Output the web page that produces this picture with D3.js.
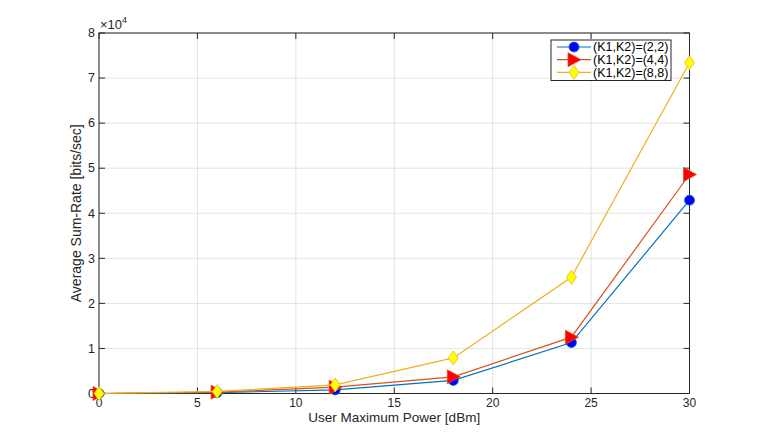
<!DOCTYPE html>
<html><head><meta charset="utf-8">
<script src="https://cdn.jsdelivr.net/npm/d3@7"></script>
<style>body{margin:0;background:#fff}svg{display:block}text{font-family:"Liberation Sans",Arial,sans-serif}</style>
</head><body>
<svg id="c" width="761" height="443"></svg>
<script>
const xValues = [0, 6, 12, 18, 24, 30];
const series22 = [0, 200, 800, 2900, 11300, 42900];
const series44 = [0, 300, 1400, 3700, 12500, 48600];
const series88 = [0, 450, 1900, 7900, 25800, 73400];
const xTicks = [0, 5, 10, 15, 20, 25, 30];
const yTicks = [0, 1, 2, 3, 4, 5, 6, 7, 8];
const legendLabels = ["(K1,K2)=(2,2)", "(K1,K2)=(4,4)", "(K1,K2)=(8,8)"];

const svg = d3.select("#c");
const L = 99, R = 689.5, T = 33, B = 393.5;
const x = d3.scaleLinear().domain([0, 30]).range([L, R]);
const y = d3.scaleLinear().domain([0, 80000]).range([B, T]);

// grid
const g = svg.append("g");
g.selectAll(".gx").data(xTicks).enter().append("line")
  .attr("x1", d => x(d)).attr("x2", d => x(d)).attr("y1", T).attr("y2", B)
  .attr("stroke", "#e3e3e3").attr("stroke-width", 1);
g.selectAll(".gy").data(yTicks).enter().append("line")
  .attr("y1", d => y(d * 1e4)).attr("y2", d => y(d * 1e4)).attr("x1", L).attr("x2", R)
  .attr("stroke", "#e3e3e3").attr("stroke-width", 1);

// axes
const ax = svg.append("g");
ax.append("rect").attr("x", L).attr("y", T).attr("width", R - L).attr("height", B - T)
  .attr("fill", "none").attr("stroke", "#262626").attr("stroke-width", 1);
const tl = 6;
xTicks.forEach(t => {
  ax.append("line").attr("x1", x(t)).attr("x2", x(t)).attr("y1", B).attr("y2", B - tl).attr("stroke", "#262626");
  ax.append("line").attr("x1", x(t)).attr("x2", x(t)).attr("y1", T).attr("y2", T + tl).attr("stroke", "#262626");
  ax.append("text").attr("x", x(t)).attr("y", B + 13.5).attr("text-anchor", "middle")
    .attr("font-size", 12).attr("fill", "#262626").text(t);
});
yTicks.forEach(t => {
  const yy = y(t * 1e4);
  ax.append("line").attr("x1", L).attr("x2", L + tl).attr("y1", yy).attr("y2", yy).attr("stroke", "#262626");
  ax.append("line").attr("x1", R).attr("x2", R - tl).attr("y1", yy).attr("y2", yy).attr("stroke", "#262626");
  ax.append("text").attr("x", L - 4).attr("y", yy + 4.3).attr("text-anchor", "end")
    .attr("font-size", 12.5).attr("fill", "#262626").text(t);
});
// exponent
const ex = ax.append("text").attr("x", L + 1).attr("y", T - 4).attr("font-size", 13).attr("fill", "#262626");
ex.append("tspan").text("\u00d710");
ex.append("tspan").attr("font-size", 9).attr("dy", -6).text("4");

// labels
svg.append("text").attr("x", (L + R) / 2).attr("y", B + 28.5).attr("text-anchor", "middle")
  .attr("font-size", 13.5).attr("fill", "#262626").text("User Maximum Power [dBm]");
svg.append("text").attr("transform", `translate(81,${(T + B) / 2}) rotate(-90)`).attr("text-anchor", "middle")
  .attr("font-size", 14).attr("fill", "#262626").text("Average Sum-Rate [bits/sec]");

const styles = [
  {data: series22, line: "#0072BD", fill: "#0000FF", sym: "circ"},
  {data: series44, line: "#D95319", fill: "#FF0000", sym: "tri"},
  {data: series88, line: "#EDB120", fill: "#FFFF00", sym: "dia"}
];
function marker(sel, s, cx, cy) {
  if (s.sym === "tri") {
    sel.append("path").attr("d", `M${cx - 6},${cy - 7}L${cx + 7},${cy}L${cx - 6},${cy + 7}Z`)
      .attr("fill", s.fill).attr("stroke", s.line).attr("stroke-width", 0.8);
  } else if (s.sym === "dia") {
    sel.append("path").attr("d", `M${cx},${cy - 7}L${cx + 5},${cy}L${cx},${cy + 7}L${cx - 5},${cy}Z`)
      .attr("fill", s.fill).attr("stroke", s.line).attr("stroke-width", 0.8);
  } else {
    sel.append("circle").attr("cx", cx).attr("cy", cy).attr("r", 5)
      .attr("fill", s.fill).attr("stroke", s.line).attr("stroke-width", 0.8);
  }
}
const line = d3.line().x((d, i) => x(xValues[i])).y(d => y(d));
styles.forEach(s => {
  const gs = svg.append("g");
  gs.append("path").datum(s.data).attr("d", line).attr("fill", "none").attr("stroke", s.line).attr("stroke-width", 1.2);
  s.data.forEach((v, i) => marker(gs, s, x(xValues[i]), y(v)));
});

// legend
const lg = svg.append("g");
lg.append("rect").attr("x", 551).attr("y", 40).attr("width", 120).attr("height", 40.5)
  .attr("fill", "#fff").attr("stroke", "#262626").attr("stroke-width", 1);
legendLabels.forEach((lab, i) => {
  const yy = 47 + i * 12.7;
  lg.append("line").attr("x1", 557).attr("x2", 591).attr("y1", yy).attr("y2", yy).attr("stroke", styles[i].line).attr("stroke-width", 1.2);
  marker(lg, styles[i], 574, yy);
  lg.append("text").attr("x", 593).attr("y", yy + 4.3).attr("font-size", 12.5).attr("fill", "#000").text(lab);
});
</script>
</body></html>
